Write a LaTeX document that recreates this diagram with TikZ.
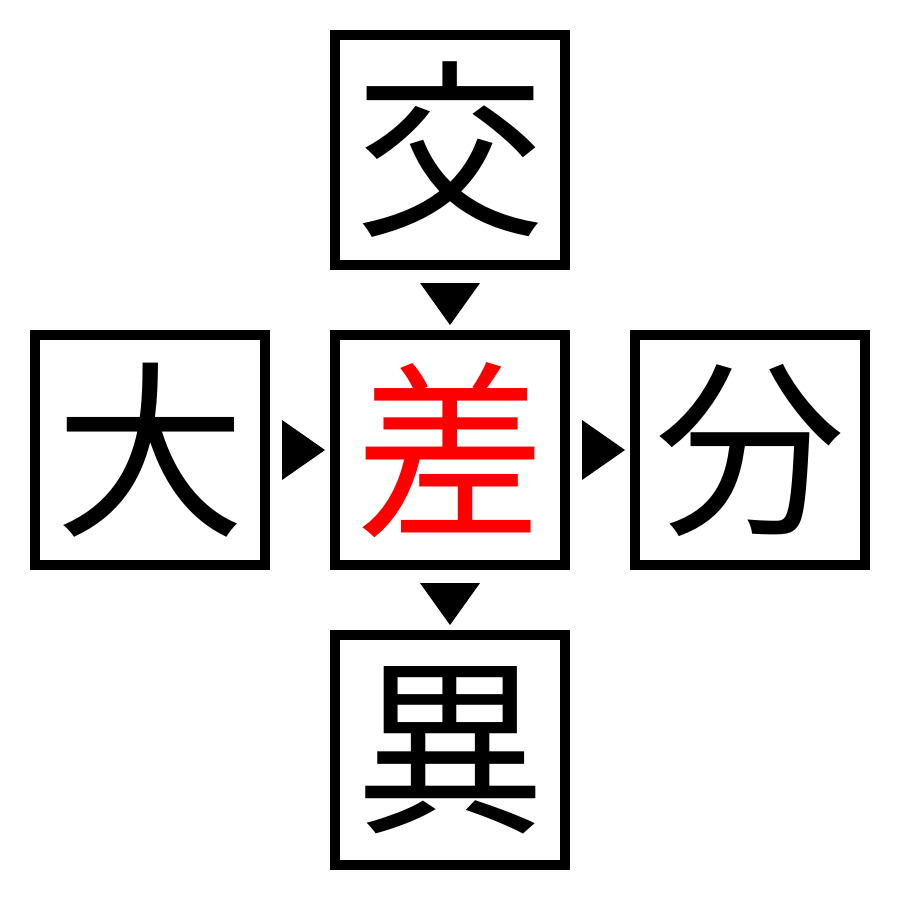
\documentclass[tikz,border=0pt]{standalone}
\usepackage{fontspec}
\newfontfamily\cjk{Noto Sans CJK JP}
\begin{document}
\begin{tikzpicture}[x=1pt,y=-1pt,
  kbox/.style={draw=black,line width=10pt,minimum size=230pt,inner sep=0pt,
    font=\cjk\fontsize{190}{190}\selectfont},
  tri/.style={fill=black}]
\useasboundingbox (0,0) rectangle (900,900);
\node[kbox] (top) at (450,150) {交};
\node[kbox] (left) at (150,450) {大};
\node[kbox,text=red] (mid) at (450,450) {差};
\node[kbox] (right) at (750,450) {分};
\node[kbox] (bot) at (450,750) {異};
\coordinate (t1) at (450,303);
\coordinate (t2) at (303,450);
\coordinate (t3) at (603,450);
\coordinate (t4) at (450,603);
\fill[tri] ([shift={(-30,-20)}]t1) -- ([shift={(30,-20)}]t1) -- ([shift={(0,22)}]t1) -- cycle;
\fill[tri] ([shift={(-21,-30)}]t2) -- ([shift={(-21,30)}]t2) -- ([shift={(22,0)}]t2) -- cycle;
\fill[tri] ([shift={(-21,-30)}]t3) -- ([shift={(-21,30)}]t3) -- ([shift={(22,0)}]t3) -- cycle;
\fill[tri] ([shift={(-30,-20)}]t4) -- ([shift={(30,-20)}]t4) -- ([shift={(0,22)}]t4) -- cycle;
\end{tikzpicture}
\end{document}
